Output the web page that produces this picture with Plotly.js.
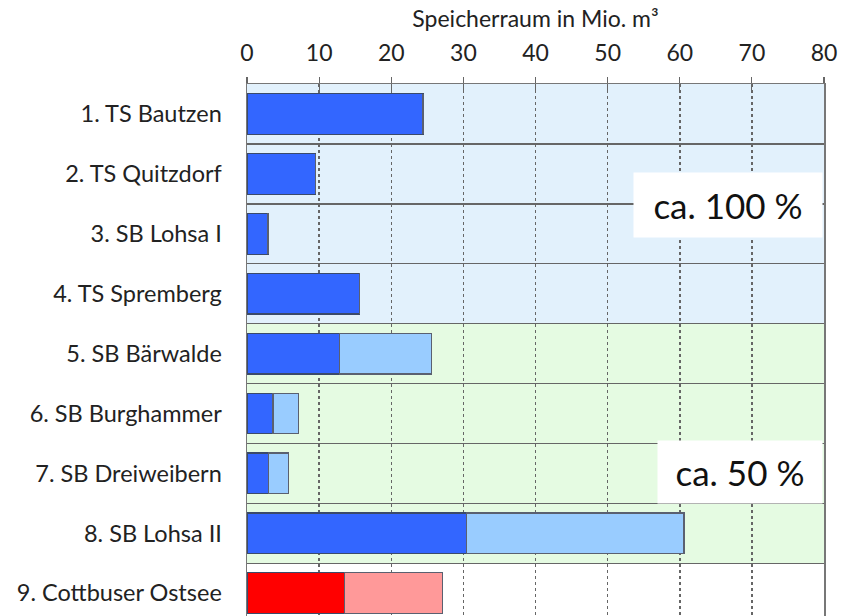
<!DOCTYPE html>
<html>
<head>
<meta charset="utf-8">
<script src="https://cdn.plot.ly/plotly-3.0.1.min.js"></script>
<style>html,body{margin:0;padding:0;background:#fff;}#chart{width:841px;height:616px;}</style>
</head>
<body>
<div id="chart"></div>
<script>
// Data
const categories = ["1. TS Bautzen", "2. TS Quitzdorf", "3. SB Lohsa I", "4. TS Spremberg",
  "5. SB Bärwalde", "6. SB Burghammer", "7. SB Dreiweibern", "8. SB Lohsa II", "9. Cottbuser Ostsee"];
const darkPart  = [24.4, 9.5, 2.9, 15.6, 12.8, 3.6, 3.0, 30.4, 13.5];
const lightPart = [0, 0, 0, 0, 12.8, 3.5, 2.8, 30.2, 13.6];
const xTicks = [0, 10, 20, 30, 40, 50, 60, 70, 80];
const groupBlue = [0, 3];   // index range with ca. 100 %
const groupGreen = [4, 7];  // index range with ca. 50 %
const labelFull = "ca. 100 %";
const labelHalf = "ca. 50 %";

const FONT = "Lato, 'Open Sans', sans-serif";
const darkColors = categories.map((c, i) => i === 8 ? "#ff0000" : "#3366ff");
const lightColors = categories.map((c, i) => i === 8 ? "#ff9999" : "#99ccff");

const traces = [
  {type: "bar", orientation: "h", y: categories, x: darkPart, width: 0.68,
   marker: {color: darkColors, line: {color: "#3a4a6a", width: 1.2}}, hoverinfo: "x+y"},
  {type: "bar", orientation: "h", y: categories, x: lightPart, width: 0.68,
   marker: {color: lightColors, line: {color: "#5a6070", width: 1.2}}, hoverinfo: "x+y"},
  // invisible trace to drive the top tick marks (crossing ticks)
  {type: "scatter", x: [xTicks[0]], y: [categories[0]], xaxis: "x2", mode: "markers",
   marker: {opacity: 0}, hoverinfo: "skip", showlegend: false}
];

const layout = {
  width: 841, height: 616,
  margin: {l: 247, r: 17, t: 84, b: 0, pad: 0},
  paper_bgcolor: "#ffffff", plot_bgcolor: "#ffffff",
  barmode: "stack", showlegend: false,
  font: {family: FONT, color: "#222"},
  xaxis: {
    side: "top", range: [0, 80], tickvals: xTicks, ticktext: xTicks.map(String),
    ticks: "outside", ticklen: 6, tickwidth: 1.2, tickcolor: "#666",
    tickfont: {size: 23, color: "#222", family: FONT}, ticklabelstandoff: 6,
    showline: true, linecolor: "#777", linewidth: 1.5,
    showgrid: true, gridcolor: "#666", gridwidth: 1.5, griddash: "dot",
    zeroline: false,
    title: {text: "Speicherraum in Mio. m³", font: {size: 23, color: "#222", family: FONT}, standoff: 4}
  },
  xaxis2: {
    overlaying: "x", side: "top", range: [0, 80], tickvals: xTicks, ticktext: xTicks.map(() => ""),
    ticks: "inside", ticklen: 6, tickwidth: 1.2, tickcolor: "#666",
    showgrid: false, showline: false, zeroline: false
  },
  yaxis: {
    type: "category", range: [8.38, -0.5], tickson: "boundaries",
    ticks: "", showgrid: true, gridcolor: "#666", gridwidth: 1.5,
    showline: true, mirror: true, linecolor: "#777", linewidth: 1.5,
    tickfont: {size: 23.5, color: "#222", family: FONT}, ticklabelstandoff: 19
  },
  shapes: [
    {type: "rect", layer: "below", xref: "paper", yref: "y", x0: 0, x1: 1,
     y0: groupBlue[0] - 0.5, y1: groupBlue[1] + 0.5, fillcolor: "#e2f1fc", line: {width: 0}},
    {type: "rect", layer: "below", xref: "paper", yref: "y", x0: 0, x1: 1,
     y0: groupGreen[0] - 0.5, y1: groupGreen[1] + 0.5, fillcolor: "#e5fbe2", line: {width: 0}}
  ],
  annotations: [
    {text: labelFull, xref: "paper", yref: "paper", x: 0.9985, y: 0.7726, xanchor: "right", yanchor: "middle",
     showarrow: false, bgcolor: "#ffffff", width: 186, height: 62, align: "center",
     font: {size: 35, color: "#111", family: FONT}},
    {text: labelHalf, xref: "paper", yref: "paper", x: 0.9985, y: 0.2707, xanchor: "right", yanchor: "middle",
     showarrow: false, bgcolor: "#ffffff", width: 162, height: 60, align: "center",
     font: {size: 35, color: "#111", family: FONT}}
  ]
};

Plotly.newPlot("chart", traces, layout, {displayModeBar: false, staticPlot: true});
</script>
</body>
</html>
